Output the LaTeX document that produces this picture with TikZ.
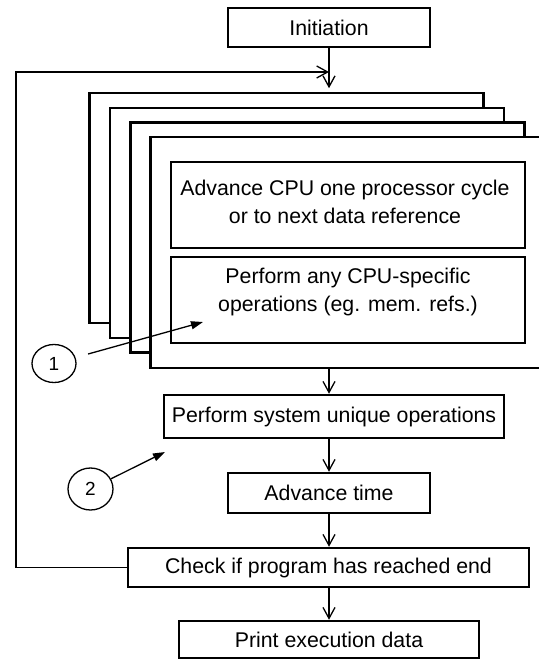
\documentclass[tikz,border=0pt]{standalone}
\usepackage{fontspec}
\setmainfont{Liberation Sans}
\usetikzlibrary{arrows.meta,shapes.geometric}
\begin{document}
\begin{tikzpicture}[x=1pt,y=-1pt,
  box/.style={draw, line width=2.5pt, fill=white, inner sep=0pt, font=\fontsize{21.3}{28}\selectfont},
  stack/.style={draw, line width=2.6pt, fill=white, inner sep=0pt, minimum width=394pt, minimum height=230pt},
  conn/.style={line width=1.3pt, -{Straight Barb[length=11pt,width=12pt,line width=1.3pt]}},
  pointer/.style={line width=1.3pt, -{Triangle[length=12pt,width=8pt]}},
  lbl/.style={font=\fontsize{21.3}{28}\selectfont, align=center, inner sep=0pt},
  num/.style={draw, ellipse, line width=1.3pt, inner sep=0pt, font=\fontsize{19}{23}\selectfont}
]
\useasboundingbox (0,0) rectangle (538,660);

% top box
\node[box, minimum width=202pt, minimum height=39pt] (init) at (329,27.5) {Initiation};

% stacked frames
\node[stack] (f1) at (286.75,208) {};
\node[stack] (f2) at (307,223) {};
\node[stack] (f3) at (327.25,237.75) {};
\node[stack, minimum height=231pt] (f4) at (347.5,252.5) {};

% inner boxes
\node[box, minimum width=354pt, minimum height=86pt] (b1) at (348,205) {};
\node[lbl] (t1) at (345,202) {Advance CPU one processor cycle\\or to next data reference};
\node[box, minimum width=354pt, minimum height=86pt] (b2) at (348,300) {};
\node[lbl] (t2) at (348,292) {Perform any CPU-specific\\operations (eg. mem. refs.)};

% lower boxes
\node[box, minimum width=340pt, minimum height=43pt] (sys) at (334,416.5) {Perform system unique operations};
\node[box, minimum width=202pt, minimum height=40pt] (time) at (329,493) {Advance time};
\node[box, minimum width=401pt, minimum height=39pt] (check) at (328.5,567.5) {Check if program has reached end};
\node[box, minimum width=300pt, minimum height=37pt] (print) at (329,639.5) {Print execution data};

% circled numbers
\node[num, minimum width=44pt, minimum height=38pt] (n1) at (54,363.5) {1};
\node[num, minimum width=45pt, minimum height=42pt] (n2) at (90.5,489) {2};

% vertical flow
\draw[conn, shorten >=3.5pt] (init.south) -- (init.south |- f1.north);
\draw[conn] (f4.south -| init.south) -- (sys.north -| init.south);
\draw[conn] (sys.south -| time.north) -- (time.north);
\draw[conn] (time.south) -- (time.south |- check.north);
\draw[conn] (check.south -| print.north) -- (print.north);

% loop back
\coordinate (corner) at (16,72);
\coordinate (join) at (329,72);
\draw[conn] (check.west) -| (corner) -- (join);

% pointers
\coordinate (p1) at (203,322);
\coordinate (p2) at (165,452);
\draw[pointer, shorten <=13pt] (n1) -- (p1);
\draw[pointer] (n2) -- (p2);
\end{tikzpicture}
\end{document}
